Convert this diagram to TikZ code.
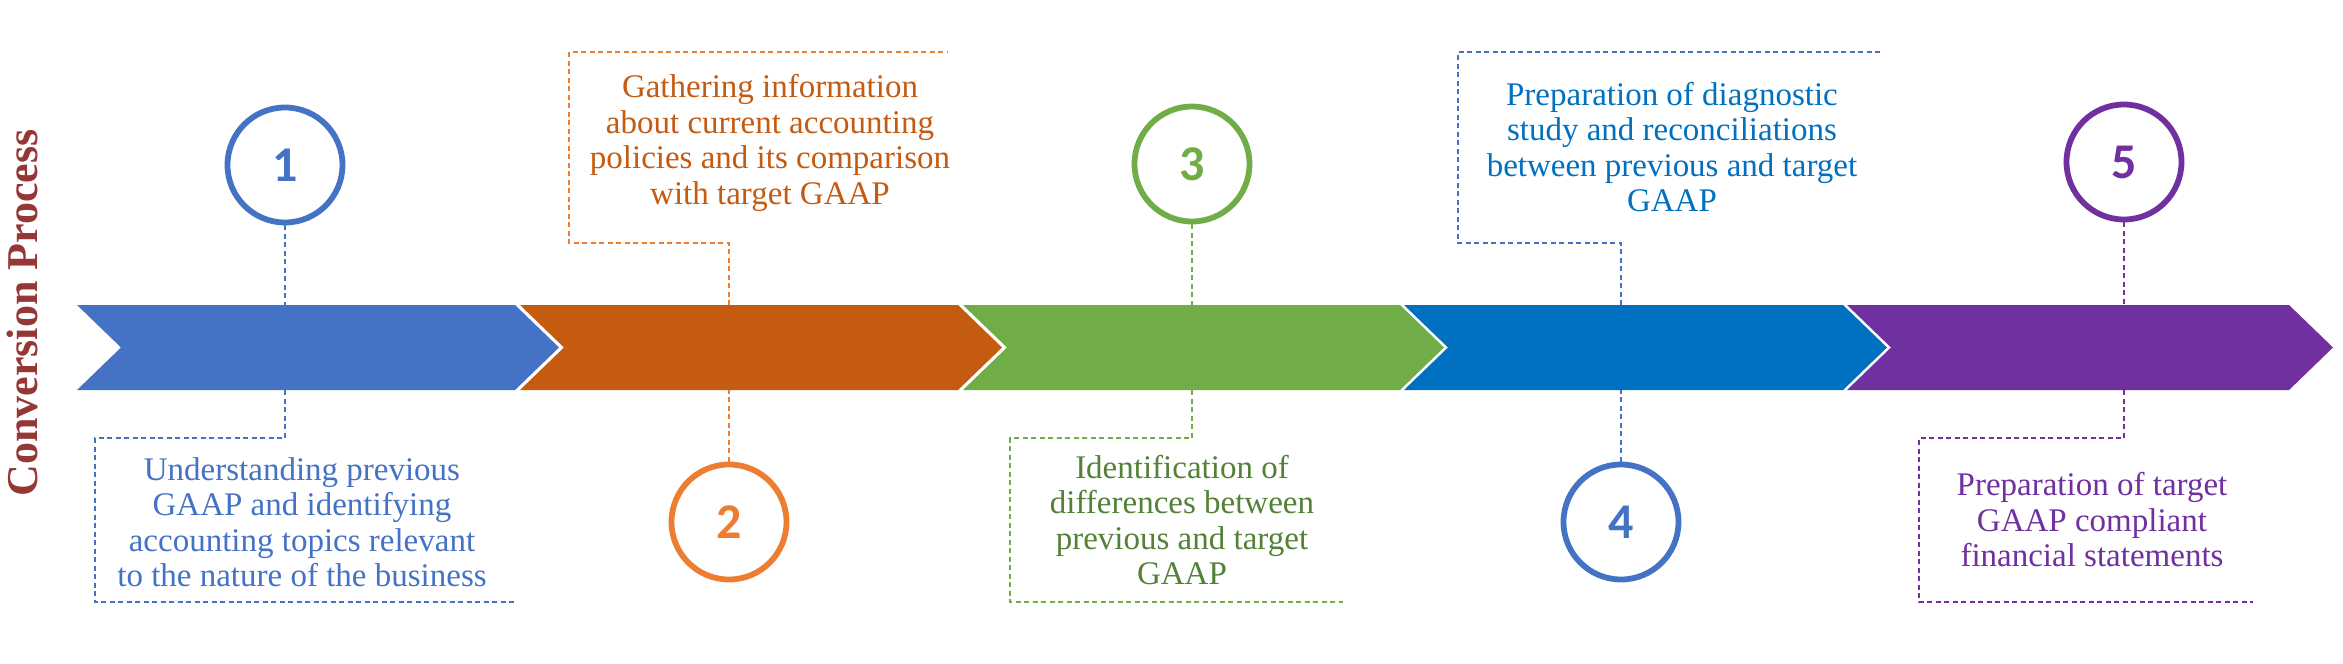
\documentclass[tikz,border=0pt]{standalone}
\usepackage{fontspec}
\setmainfont{Liberation Serif}
\newfontfamily\digitfont{Carlito}
\definecolor{cblue}{HTML}{4472C4}
\definecolor{corange}{HTML}{C55A11}
\definecolor{corangeL}{HTML}{ED7D31}
\definecolor{cgreen}{HTML}{70AD47}
\definecolor{cgreenD}{HTML}{538135}
\definecolor{cbluetwo}{HTML}{0070C0}
\definecolor{cpurple}{HTML}{7030A0}
\definecolor{cred}{HTML}{953735}
\newcommand\mychev[3]{\fill[#1] (#2,305) -- (#3,305) -- ({#3+44},347.5) -- (#3,390) -- (#2,390) -- ({#2+44},347.5) -- cycle;}
\begin{document}
\begin{tikzpicture}[x=1pt,y=-1pt,
  numcirc/.style={circle, draw=#1, line width=5.8pt, minimum size=115pt, inner sep=0pt, text=#1,
    font=\digitfont\bfseries\fontsize{50}{50}\selectfont},
  desc/.style={align=center, text=#1, inner sep=0pt, font=\rmfamily\fontsize{33}{35.5}\selectfont},
  conn/.style={draw=#1, line width=1.6pt, dash pattern=on 5pt off 3.5pt}]
\useasboundingbox[fill=white] (0,0) rectangle (2343,664);
% band
\mychev{cblue}{77}{515}
\mychev{corange}{520}{958}
\mychev{cgreen}{963}{1400}
\mychev{cbluetwo}{1404}{1843}
\mychev{cpurple}{1847}{2289}
\coordinate (bt) at (0,305);
\coordinate (bb) at (0,390);
% title
\node[rotate=90, text=cred, inner sep=0pt, font=\rmfamily\bfseries\fontsize{44}{44}\selectfont] (title) at (22,313) {Conversion Process};
% circles
\node[numcirc=cblue] (c1) at (285,165) {1};
\node[numcirc=corangeL] (c2) at (729,522) {2};
\node[numcirc=cgreen] (c3) at (1192,164) {3};
\node[numcirc=cblue] (c4) at (1621,522) {4};
\node[numcirc=cpurple] (c5) at (2124,162) {5};
% box corners
\coordinate (t1) at (95,438);  \coordinate (u1) at (95,602);  \coordinate (v1) at (515,602);
\coordinate (t2) at (569,243); \coordinate (u2) at (569,52);  \coordinate (v2) at (948,52);
\coordinate (t3) at (1010,438); \coordinate (u3) at (1010,602); \coordinate (v3) at (1343,602);
\coordinate (t4) at (1458,243); \coordinate (u4) at (1458,52); \coordinate (v4) at (1883,52);
\coordinate (t5) at (1919,438); \coordinate (u5) at (1919,602); \coordinate (v5) at (2253,602);
% connectors
\draw[conn=cblue] (c1.south) -- (c1.south |- bt);
\draw[conn=cblue] (c1.south |- bb) -- (c1.south |- t1) -- (t1) -- (u1) -- (v1);
\draw[conn=corangeL] (c2.north) -- (c2.north |- bb);
\draw[conn=corangeL] (c2.north |- bt) -- (c2.north |- t2) -- (t2) -- (u2) -- (v2);
\draw[conn=cgreen] (c3.south) -- (c3.south |- bt);
\draw[conn=cgreen] (c3.south |- bb) -- (c3.south |- t3) -- (t3) -- (u3) -- (v3);
\draw[conn=cblue] (c4.north) -- (c4.north |- bb);
\draw[conn=cblue] (c4.north |- bt) -- (c4.north |- t4) -- (t4) -- (u4) -- (v4);
\draw[conn=cpurple] (c5.south) -- (c5.south |- bt);
\draw[conn=cpurple] (c5.south |- bb) -- (c5.south |- t5) -- (t5) -- (u5) -- (v5);
% texts
\node[desc=cblue] (d1) at (302,522) {Understanding previous\\GAAP and identifying\\accounting topics relevant\\to the nature of the business};
\node[desc=corange] (d2) at (770,143) {Gathering information\\about current accounting\\policies and its comparison\\with target GAAP};
\node[desc=cgreenD] (d3) at (1182,520) {Identification of\\differences between\\previous and target\\GAAP};
\node[desc=cbluetwo] (d4) at (1672,147) {Preparation of diagnostic\\study and reconciliations\\between previous and target\\GAAP};
\node[desc=cpurple] (d5) at (2092,520) {Preparation of target\\GAAP compliant\\financial statements};
\end{tikzpicture}
\end{document}
